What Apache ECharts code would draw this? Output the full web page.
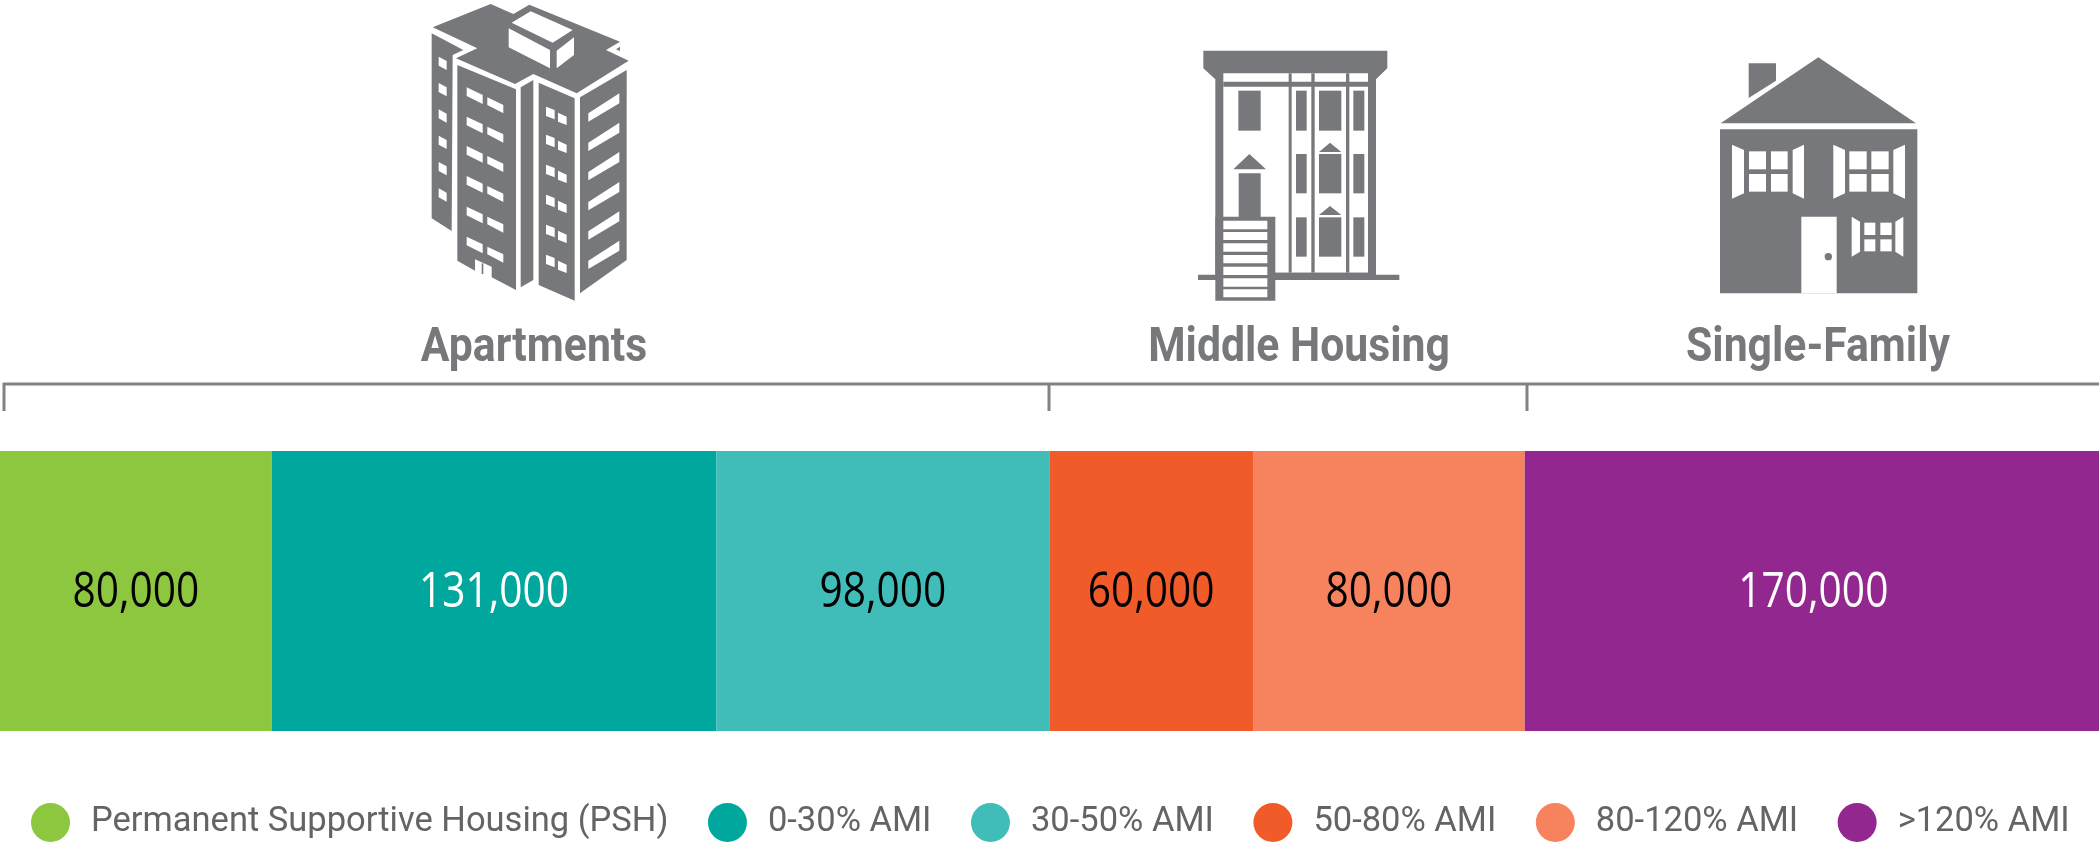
<!DOCTYPE html>
<html>
<head>
<meta charset="utf-8">
<title>Housing units by type and income</title>
<script src="https://cdn.jsdelivr.net/npm/echarts@6/dist/echarts.min.js"></script>
<style>
html, body { margin: 0; padding: 0; background: #fff; }
#main { width: 2099px; height: 845px; }
</style>
</head>
<body>
<div id="main"></div>
<script>
var categories = ['Housing units'];
var seriesNames = ['Permanent Supportive Housing (PSH)', '0-30% AMI', '30-50% AMI', '50-80% AMI', '80-120% AMI', '>120% AMI'];
var seriesValues = [80000, 131000, 98000, 60000, 80000, 170000];
var seriesColors = ['#8DC63F', '#00A79D', '#41BDB9', '#F15A29', '#F6835D', '#92278F'];
var labelColors = ['#000', '#fff', '#000', '#000', '#000', '#fff'];
var groupNames = ['Apartments', 'Middle Housing', 'Single-Family'];

var GREY = '#77787B';
var WHITE = '#fff';
var totalUnits = seriesValues.reduce(function (a, b) { return a + b; }, 0);

// running totals, used to place the value labels in the middle of each bar
var labelData = [];
var running = 0;
seriesValues.forEach(function (v) {
    labelData.push([running, running + v, v]);
    running += v;
});

// small helpers for the icons
function poly(points, fill) {
    return { type: 'polygon', silent: true, shape: { points: points }, style: { fill: fill || GREY } };
}
function box(x1, y1, x2, y2, fill) {
    return { type: 'rect', silent: true, shape: { x: x1, y: y1, width: x2 - x1, height: y2 - y1 }, style: { fill: fill || GREY } };
}
function shifted(points, dy) {
    return points.map(function (p) { return [p[0], p[1] + dy]; });
}

function apartmentIcon() {
    var c = [];
    c.push(poly([[98,82],[272,12],[340,42],[388,14],[660,125],[618,150],[686,182],[530,280],[400,222],[345,252],[168,175],[232,145]]));
    c.push(poly([[648,148],[660,140],[660,153]]));
    c.push(poly([[335,68],[392,34],[518,90],[458,128]], WHITE));
    c.push(poly([[326,85],[450,150],[450,205],[326,142]], WHITE));
    c.push(poly([[470,152],[522,112],[522,165],[470,205]], WHITE));
    // left wing
    c.push(poly([[95,100],[190,150],[158,165],[155,693],[95,655]]));
    [0, 79, 158, 237, 316, 395].forEach(function (dy) {
        c.push(poly(shifted([[116,170],[140,183],[140,210],[116,197]], dy), WHITE));
    });
    // front left face
    c.push(poly([[172,195],[348,268],[348,870],[275,832],[275,800],[225,778],[225,812],[172,782]]));
    c.push(box(245, 790, 250, 822));
    [0, 88, 176, 266, 358, 448].forEach(function (dy) {
        c.push(poly(shifted([[200,262],[248,285],[248,312],[200,288]], dy), WHITE));
        c.push(poly(shifted([[262,292],[310,315],[310,340],[262,315]], dy), WHITE));
    });
    c.push(poly([[362,262],[400,240],[400,840],[362,862]]));
    // front right face
    c.push(poly([[416,248],[524,295],[524,902],[416,855]]));
    [0, 84, 174, 264, 354, 444].forEach(function (dy) {
        c.push(poly(shifted([[438,320],[464,330],[464,358],[438,348]], dy), WHITE));
        c.push(poly(shifted([[474,338],[500,350],[500,375],[474,365]], dy), WHITE));
    });
    // side face
    c.push(poly([[540,292],[680,210],[680,780],[540,880]]));
    [0, 88, 176, 266, 354, 442].forEach(function (dy) {
        c.push(poly(shifted([[565,340],[658,280],[658,310],[565,365]], dy), WHITE));
    });
    return { type: 'group', x: 400, y: 0, scaleX: 1 / 3, scaleY: 1 / 3, children: c };
}

function middleIcon() {
    var c = [];
    c.push(poly([[100,62],[652,62],[652,115],[618,148],[618,740],[136,740],[136,148],[100,115]]));
    c.push(box(160, 130, 594, 728, WHITE));
    c.push(box(160, 155, 594, 170));
    c.push(box(356, 130, 365, 728));
    c.push(box(424, 130, 434, 728));
    c.push(box(528, 130, 538, 728));
    c.push(box(205, 182, 272, 302));
    [[182,302],[372,490],[562,680]].forEach(function (r) {
        c.push(box(378, r[0], 410, r[1]));
        c.push(box(447, r[0], 514, r[1]));
        c.push(box(550, r[0], 583, r[1]));
    });
    c.push(poly([[447,366],[480,338],[514,366]]));
    c.push(poly([[447,555],[480,528],[514,555]]));
    c.push(poly([[190,418],[238,372],[288,418]]));
    c.push(box(206, 430, 272, 570));
    // ground line and stoop
    c.push(box(84, 734, 688, 750));
    c.push(box(316, 728, 594, 750));
    c.push(box(136, 560, 316, 812));
    [[572,598],[606,630],[640,665],[675,700],[710,735],[745,770],[778,802]].forEach(function (r) {
        c.push(box(160, r[0], 292, r[1], WHITE));
    });
    return { type: 'group', x: 1170, y: 30, scaleX: 1 / 3, scaleY: 1 / 3, children: c };
}

function houseIcon() {
    var c = [];
    c.push(poly([[206,70],[288,70],[288,122],[206,174]]));
    c.push(poly([[122,250],[415,52],[708,250]]));
    c.push(box(120, 268, 712, 760));
    function panes(list) {
        list.forEach(function (p) { c.push(box(p[0], p[1], p[2], p[3], WHITE)); });
    }
    c.push(poly([[156,314],[192,330],[192,460],[156,476]], WHITE));
    c.push(poly([[372,314],[338,330],[338,460],[372,476]], WHITE));
    panes([[207,334,258,388],[273,334,323,388],[207,402,258,455],[273,402,323,455]]);
    c.push(poly([[460,314],[495,330],[495,460],[460,476]], WHITE));
    c.push(poly([[675,314],[640,330],[640,460],[675,476]], WHITE));
    panes([[508,334,560,388],[574,334,626,388],[508,402,560,455],[574,402,626,455]]);
    c.push(box(364, 530, 470, 760, WHITE));
    c.push({ type: 'circle', silent: true, shape: { cx: 445, cy: 650, r: 11 }, style: { fill: GREY } });
    c.push(poly([[515,530],[540,545],[540,635],[515,650]], WHITE));
    c.push(poly([[670,530],[646,545],[646,635],[670,650]], WHITE));
    panes([[553,548,586,585],[601,548,635,585],[553,598,586,634],[601,598,635,634]]);
    return { type: 'group', x: 1680, y: 40, scaleX: 1 / 3, scaleY: 1 / 3, children: c };
}

// condensed look: no condensed font is installed, so the text is squeezed
function heading(text, cx) {
    return {
        type: 'text', silent: true, x: cx, y: 349, scaleX: 0.89,
        style: {
            text: text, fill: GREY, textAlign: 'center', textVerticalAlign: 'middle',
            font: 'bold 48px Roboto, sans-serif'
        }
    };
}

function bracketLine(points) {
    return { type: 'polyline', silent: true, shape: { points: points }, style: { stroke: '#808285', lineWidth: 3, fill: null } };
}

function renderValueLabel(params, api) {
    var left = api.coord([api.value(0), 0]);
    var right = api.coord([api.value(1), 0]);
    return {
        type: 'text',
        silent: true,
        x: (left[0] + right[0]) / 2,
        y: left[1] + 2,
        scaleX: 0.83,
        style: {
            text: api.value(2).toLocaleString('en-US'),
            fill: labelColors[params.dataIndex],
            textAlign: 'center',
            textVerticalAlign: 'middle',
            font: '49px "Open Sans", sans-serif'
        }
    };
}

var myChart = echarts.init(document.getElementById('main'));
var option = {
    animation: false,
    grid: { left: 0, right: -3, top: 451, height: 280, outerBoundsMode: 'none' },
    xAxis: { type: 'value', min: 0, max: totalUnits, show: false },
    yAxis: { type: 'category', data: categories, show: false },
    legend: {
        left: 31,
        top: 803,
        padding: 0,
        itemWidth: 39,
        itemHeight: 39,
        itemGap: 39.5,
        icon: 'circle',
        selectedMode: false,
        textStyle: {
            fontFamily: 'Roboto',
            fontSize: 34.5,
            color: '#636466',
            padding: [0, 0, 0, 16]
        },
        data: seriesNames
    },
    graphic: [
        apartmentIcon(),
        middleIcon(),
        houseIcon(),
        heading(groupNames[0], 534),
        heading(groupNames[1], 1299),
        heading(groupNames[2], 1818),
        bracketLine([[4,411],[4,384],[2099,384]]),
        bracketLine([[1049,384],[1049,411]]),
        bracketLine([[1527,384],[1527,411]])
    ],
    series: seriesNames.map(function (name, i) {
        return {
            name: name,
            type: 'bar',
            stack: 'units',
            barWidth: '100%',
            data: [seriesValues[i]],
            itemStyle: { color: seriesColors[i] }
        };
    }).concat([{
        type: 'custom',
        name: 'Value labels',
        silent: true,
        z: 5,
        renderItem: renderValueLabel,
        data: labelData
    }])
};
myChart.setOption(option);
</script>
</body>
</html>
